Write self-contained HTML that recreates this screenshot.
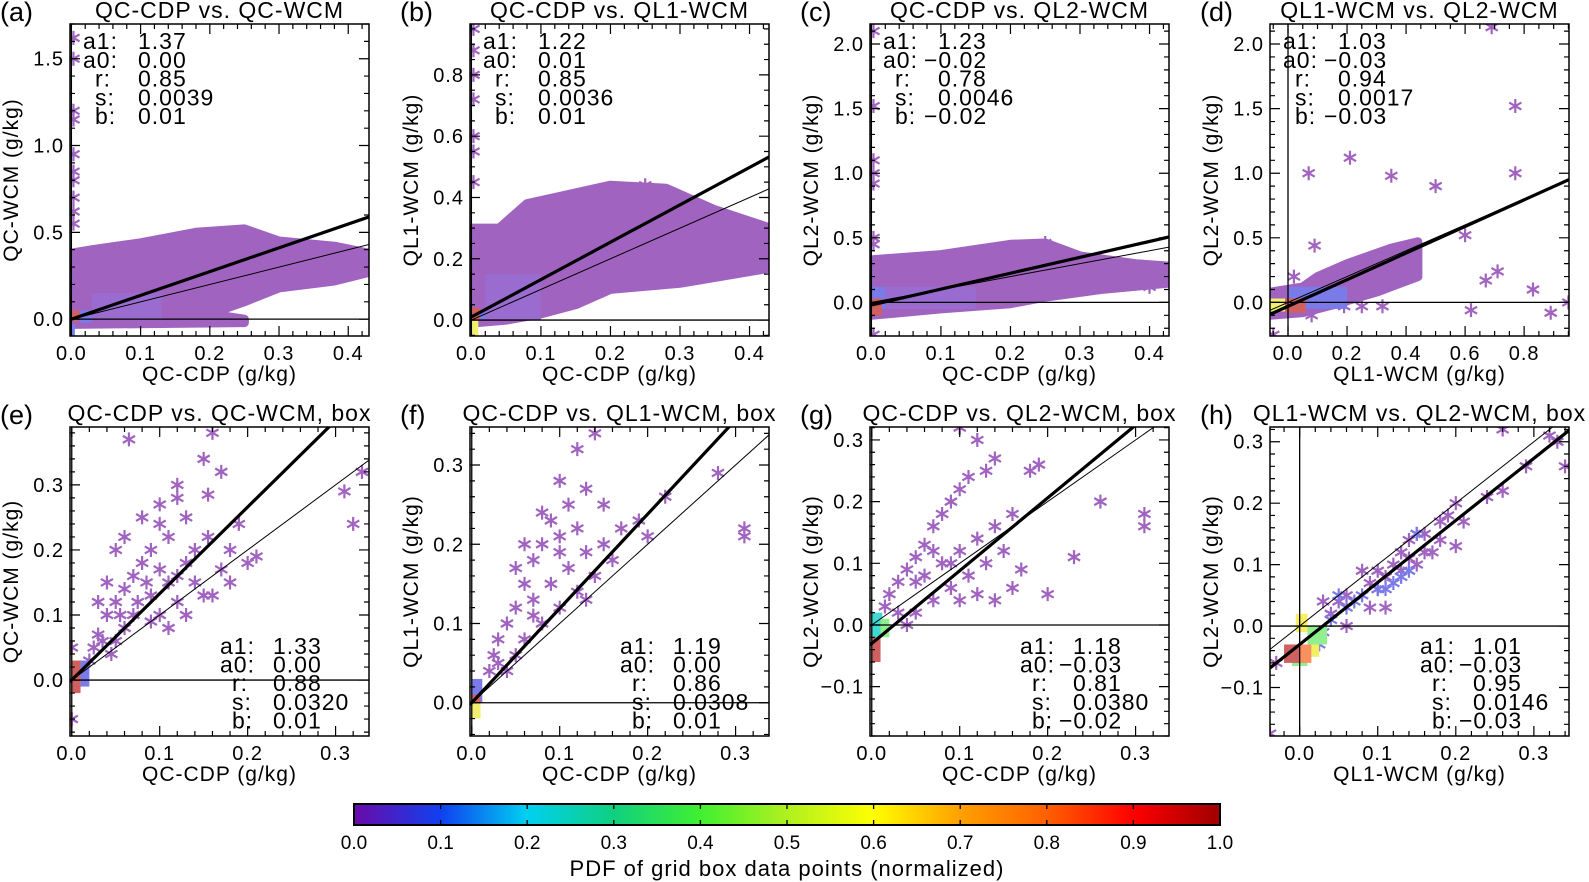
<!DOCTYPE html>
<html><head><meta charset="utf-8"><style>
body{margin:0;background:#fff}
svg{display:block;font-family:"Liberation Sans",sans-serif}
</style></head><body>
<svg id="fig" width="1589" height="882" viewBox="0 0 1589 882"></svg>
<script>
// ---------- data ----------
const panelIds=['a','b','c','d','e','f','g','h'];
const panelTitles=['QC-CDP vs. QC-WCM','QC-CDP vs. QL1-WCM','QC-CDP vs. QL2-WCM','QL1-WCM vs. QL2-WCM','QC-CDP vs. QC-WCM, box','QC-CDP vs. QL1-WCM, box','QC-CDP vs. QL2-WCM, box','QL1-WCM vs. QL2-WCM, box'];
const xLabels=['QC-CDP (g/kg)','QC-CDP (g/kg)','QC-CDP (g/kg)','QL1-WCM (g/kg)','QC-CDP (g/kg)','QC-CDP (g/kg)','QC-CDP (g/kg)','QL1-WCM (g/kg)'];
const yLabels=['QC-WCM (g/kg)','QL1-WCM (g/kg)','QL2-WCM (g/kg)','QL2-WCM (g/kg)','QC-WCM (g/kg)','QL1-WCM (g/kg)','QL2-WCM (g/kg)','QL2-WCM (g/kg)'];
const xRanges=[[-0.002,0.43],[-0.002,0.428],[-0.002,0.428],[-0.061,0.952],[-0.002,0.338],[-0.002,0.338],[-0.002,0.338],[-0.038,0.345]];
const yRanges=[[-0.097,1.70],[-0.052,0.966],[-0.26,2.155],[-0.26,2.155],[-0.086,0.389],[-0.042,0.348],[-0.18,0.321],[-0.179,0.324]];
const xTicks=[[0,0.1,0.2,0.3,0.4],[0,0.1,0.2,0.3,0.4],[0,0.1,0.2,0.3,0.4],[0,0.2,0.4,0.6,0.8],[0,0.1,0.2,0.3],[0,0.1,0.2,0.3],[0,0.1,0.2,0.3],[0,0.1,0.2,0.3]];
const yTicks=[[0,0.5,1.0,1.5],[0,0.2,0.4,0.6,0.8],[0,0.5,1.0,1.5,2.0],[0,0.5,1.0,1.5,2.0],[0,0.1,0.2,0.3],[0,0.1,0.2,0.3],[-0.1,0,0.1,0.2,0.3],[-0.1,0,0.1,0.2,0.3]];
const xMinor=[0.02,0.02,0.02,0.05,0.02,0.02,0.02,0.02];
const yMinor=[0.1,0.05,0.1,0.1,0.02,0.02,0.02,0.02];
const fitA1=[1.37,1.22,1.23,1.03,1.33,1.19,1.18,1.01];
const fitA0=[0.00,0.01,-0.02,-0.03,0.00,0.00,-0.03,-0.03];
const statR=['0.85','0.85','0.78','0.94','0.88','0.86','0.81','0.95'];
const statS=['0.0039','0.0036','0.0046','0.0017','0.0320','0.0308','0.0380','0.0146'];
const statB=['0.01','0.01','-0.02','-0.03','0.01','0.01','-0.02','-0.03'];
const clouds=[
 [[0,-0.03],[0.25,-0.02],[0.25,0.0],[0.2,0.03],[0.25,0.1],[0.3,0.18],[0.38,0.22],[0.43,0.27],[0.43,0.38],[0.38,0.42],[0.3,0.45],[0.25,0.52],[0.18,0.5],[0.1,0.44],[0.03,0.4],[0,0.38]],
 [[0,-0.01],[0.05,0.0],[0.1,0.02],[0.15,0.05],[0.2,0.1],[0.3,0.12],[0.43,0.17],[0.43,0.3],[0.35,0.36],[0.28,0.43],[0.2,0.44],[0.12,0.4],[0.08,0.38],[0.04,0.3],[0,0.3]],
 [[0,-0.1],[0.1,-0.05],[0.2,-0.01],[0.25,0.04],[0.33,0.1],[0.43,0.15],[0.43,0.28],[0.38,0.3],[0.3,0.36],[0.25,0.46],[0.2,0.45],[0.1,0.37],[0,0.33]],
 [[-0.06,-0.1],[0.05,-0.08],[0.15,-0.02],[0.3,0.08],[0.44,0.2],[0.44,0.47],[0.35,0.42],[0.2,0.3],[0.1,0.2],[0.05,0.12],[-0.06,0.08]],
 [],[],[],[]
];
const starsX=[
 [0.003,0.003,0.003,0.003,0.003,0.003,0.003,0.003,0.003,0.003,0.4,0.35],
 [0.003,0.003,0.003,0.003,0.003,0.003,0.003,0.25,0.3],
 [0.003,0.003,0.003,0.003,0.003,0.003,0.003,0.003,0.25,0.4],
 [0.69,0.77,0.21,0.07,0.35,0.5,0.77,0.09,0.6,0.67,0.71,0.83,0.62,0.89,0.95,0.19,0.25,0.32,0.08,0.02,-0.05],
 [0.065,0.16,0.15,0.17,0.155,0.12,0.13,0.1,0.11,0.09,0.08,0.07,0.06,0.05,0.04,0.03,0.025,0.1,0.12,0.14,0.09,0.07,0.06,0.05,0.045,0.1,0.12,0.15,0.18,0.2,0.19,0.18,0.155,0.14,0.13,0.11,0.085,0.075,0.09,0.11,0.13,0.17,0.31,0.32,0.33,0.21,0.16,0.02,0.035,0.055,0.03,0.04,0.05,0.06,0.08,0.1,0.12,0,0],
 [0.12,0.14,0.1,0.11,0.13,0.09,0.1,0.12,0.08,0.07,0.06,0.05,0.04,0.03,0.025,0.02,0.07,0.09,0.11,0.13,0.15,0.16,0.14,0.12,0.1,0.08,0.06,0.05,0.04,0.17,0.19,0.2,0.28,0.31,0.31,0.22,0.06,0.05,0.08,0.15,0.1,0.03,0.07,0.13],
 [0.1,0.12,0.14,0.13,0.11,0.1,0.09,0.08,0.07,0.06,0.05,0.04,0.03,0.02,0.06,0.08,0.1,0.12,0.14,0.16,0.15,0.13,0.11,0.09,0.07,0.05,0.04,0.03,0.17,0.18,0.19,0.26,0.31,0.31,0.23,0.2,0.14,0.16,0.12,0.09,0.07,0.05,0.1,0.015],
 [0.26,0.32,0.33,0.34,0.29,0.26,0.24,0.2,0.19,0.18,0.21,0.2,0.18,0.17,0.16,0.15,0.14,0.13,0.14,0.15,0.12,0.11,0.1,0.08,0.09,0.1,0.09,0.11,0.06,0.05,0.03,0.06,0.04,-0.03,-0.038,0.13,0.16]
];
const starsY=[
 [1.62,1.5,1.2,1.15,0.95,0.85,0.8,0.7,0.62,0.55,0.35,0.3],
 [0.95,0.88,0.8,0.72,0.6,0.55,0.45,0.44,0.36],
 [2.1,1.52,1.1,1.0,0.92,0.5,0.45,-0.25,0.46,0.12],
 [2.13,1.52,1.12,1.0,0.98,0.9,1.0,0.44,0.52,0.17,0.24,0.1,-0.06,-0.08,0.0,-0.03,-0.03,-0.03,-0.1,0.2,-0.25],
 [0.37,0.38,0.34,0.32,0.285,0.28,0.25,0.24,0.22,0.2,0.18,0.16,0.14,0.12,0.1,0.07,0.05,0.17,0.16,0.15,0.13,0.1,0.08,0.06,0.04,0.1,0.12,0.13,0.15,0.18,0.24,0.2,0.22,0.2,0.18,0.15,0.15,0.12,0.09,0.08,0.1,0.17,0.29,0.24,0.32,0.19,0.13,0.03,0.06,0.1,0.12,0.15,0.2,0.22,0.25,0.27,0.3,0.05,-0.06],
 [0.32,0.34,0.28,0.25,0.27,0.23,0.21,0.22,0.2,0.18,0.15,0.12,0.1,0.08,0.06,0.04,0.13,0.15,0.17,0.19,0.2,0.18,0.16,0.14,0.12,0.1,0.08,0.06,0.04,0.22,0.23,0.21,0.29,0.22,0.21,0.26,0.2,0.17,0.24,0.25,0.19,0.05,0.11,0.13],
 [0.32,0.3,0.27,0.25,0.24,0.22,0.2,0.18,0.16,0.13,0.11,0.09,0.07,0.05,0.08,0.1,0.12,0.14,0.16,0.18,0.12,0.1,0.08,0.06,0.04,0.02,0.0,0.02,0.09,0.25,0.26,0.2,0.18,0.16,0.11,0.05,0.04,0.06,0.05,0.1,0.12,0.07,0.04,0.03],
 [0.32,0.31,0.3,0.26,0.26,0.22,0.21,0.2,0.18,0.17,0.17,0.13,0.14,0.12,0.15,0.15,0.14,0.12,0.11,0.1,0.1,0.08,0.09,0.09,0.07,0.06,0.03,0.03,0.05,0.04,0.04,0.0,0.02,-0.06,-0.175,0.09,0.12]
];
const blueStarsX=[[],[],[],[],[],[],[],[0.05,0.06,0.04,0.07,0.08,0.1,0.11,0.12,0.13,0.15,0.14,0.03,0.025]];
const blueStarsY=[[],[],[],[],[],[],[],[0.05,0.03,0.01,0.04,0.05,0.06,0.06,0.07,0.08,0.15,0.09,-0.01,-0.03]];
// density cells: [x0,x1,y0,y1,pdf]
const cells=[
 [[0,0.005,-0.1,-0.03,0.12],[0.03,0.13,0,0.15,0.06],[0.012,0.03,-0.02,0.05,0.1],[0,0.012,-0.01,0.05,0.85]],
 [[0.02,0.1,0,0.15,0.06],[0,0.01,-0.05,0.0,0.55],[0,0.012,0,0.04,0.85],[0.012,0.02,0,0.03,0.1]],
 [[0.02,0.15,-0.05,0.12,0.06],[0,0.02,-0.05,0.12,0.1],[0,0.015,-0.1,0.03,0.85]],
 [[0.0,0.2,-0.05,0.12,0.1],[-0.06,-0.01,-0.07,0.03,0.55],[-0.01,0.06,-0.08,0.03,0.85]],
 [[0,0.01,-0.02,0.03,0.85],[0.01,0.02,-0.01,0.03,0.1]],
 [[0,0.01,-0.02,0.0,0.55],[0,0.012,0,0.03,0.1],[0,0.01,0,0.01,0.85]],
 [[0,0.01,-0.06,-0.02,0.85],[0,0.012,-0.02,0.02,0.25],[0.01,0.02,-0.02,0.01,0.35]],
 [[-0.005,0.01,-0.01,0.02,0.6],[0.01,0.035,-0.03,0.0,0.35],[0.015,0.025,-0.05,-0.03,0.58],[-0.01,0.01,-0.065,-0.055,0.35],[-0.02,0.0,-0.06,-0.03,0.85],[0.0,0.015,-0.06,-0.03,0.75]]
];
const cbTicks=[0,0.1,0.2,0.3,0.4,0.5,0.6,0.7,0.8,0.9,1.0];
const cbStops=[[0,'#6a0aa8'],[0.1,'#1040f0'],[0.2,'#00d0f0'],[0.3,'#10d080'],[0.4,'#40f030'],[0.5,'#b0f020'],[0.6,'#ffff00'],[0.7,'#ffa000'],[0.8,'#ff6000'],[0.9,'#ff0000'],[1.0,'#a00000']];

// ---------- drawing ----------
const NS='http://www.w3.org/2000/svg';
const svg=document.getElementById('fig');
function mk(tag,attrs,parent){const e=document.createElementNS(NS,tag);for(const k in attrs)e.setAttribute(k,attrs[k]);(parent||svg).appendChild(e);return e;}
const lefts=[70,470,870,1270], W=299;
const tops=[24,427], H=[312,309];
const PURPLE='#a064c0';
function pdfColor(v){const m={0.06:'#9a6cd0',0.1:'#7a7ae8',0.12:'#6f80f0',0.25:'#40d8d0',0.3:'#80e890',0.35:'#90f090',0.55:'#f0f070',0.58:'#f0f060',0.6:'#f8f060',0.75:'#f89060',0.85:'#d06060'};return m[v]||'#7a7ae8';}
function fmt(v){return (v<-1e-9?'\u2212':'')+Math.abs(v).toFixed(1);}

panelIds.forEach((id,i)=>{
  const row=i<4?0:1, col=i%4;
  const L=lefts[col], T=tops[row], h=H[row], R=L+W, B=T+h;
  const xr=xRanges[i], yr=yRanges[i];
  const sx=v=>L+(v-xr[0])/(xr[1]-xr[0])*W;
  const sy=v=>B-(v-yr[0])/(yr[1]-yr[0])*h;
  const g=mk('g',{});
  
  
  const cid='clip'+id;
  const cp=mk('clipPath',{id:cid},g);mk('rect',{x:L,y:T,width:W,height:h},cp);
  const plot=mk('g',{'clip-path':'url(#'+cid+')'},g);
  
  
  if(clouds[i].length){
    const pts=clouds[i].map(p=>sx(p[0]).toFixed(1)+','+sy(p[1]).toFixed(1)).join(' ');
    const poly=mk('polygon',{points:pts,fill:PURPLE,stroke:PURPLE,'stroke-width':9,'stroke-linejoin':'round'},plot);
    
    
  }
  function star(x,y,color){
    const cx=sx(x),cy=sy(y),r=7;
    const s=mk('path',{d:`M${cx},${cy-r}V${cy+r}M${cx-r*0.87},${cy-r/2}L${cx+r*0.87},${cy+r/2}M${cx-r*0.87},${cy+r/2}L${cx+r*0.87},${cy-r/2}`,stroke:color,'stroke-width':2.2,fill:'none'},plot);
    
    
  }
  starsX[i].forEach((x,k)=>star(x,starsY[i][k],PURPLE));
  blueStarsX[i].forEach((x,k)=>star(x,blueStarsY[i][k],'#7a7ae8'));
  cells[i].forEach(c=>{
    const r=mk('rect',{x:sx(c[0]),y:sy(c[3]),width:Math.max(2,sx(c[1])-sx(c[0])),height:Math.max(2,sy(c[2])-sy(c[3])),fill:pdfColor(c[4])},plot);
    
    
  });
  const zl=mk('line',{x1:L,x2:R,y1:sy(0),y2:sy(0),stroke:'#000','stroke-width':1.3},plot);
  
  
  const zv=mk('line',{x1:sx(0),x2:sx(0),y1:T,y2:B,stroke:'#000','stroke-width':1.3},plot);
  
  
  const one=mk('line',{x1:sx(xr[0]),y1:sy(xr[0]),x2:sx(xr[1]),y2:sy(xr[1]),stroke:'#000','stroke-width':1},plot);
  
  
  const fit=mk('line',{x1:sx(xr[0]),y1:sy(fitA1[i]*xr[0]+fitA0[i]),x2:sx(xr[1]),y2:sy(fitA1[i]*xr[1]+fitA0[i]),stroke:'#000','stroke-width':3.2},plot);
  
  
  const fr=mk('rect',{x:L,y:T,width:W,height:h,fill:'none',stroke:'#000','stroke-width':1.5},g);
  
  
  let tp='';
  const xm=xMinor[i], ym=yMinor[i];
  for(let v=Math.ceil(xr[0]/xm)*xm;v<=xr[1]+1e-9;v+=xm){const X=sx(v);tp+=`M${X},${B}v-5M${X},${T}v5`;}
  for(let v=Math.ceil(yr[0]/ym)*ym;v<=yr[1]+1e-9;v+=ym){const Y=sy(v);tp+=`M${L},${Y}h5M${R},${Y}h-5`;}
  xTicks[i].forEach(v=>{const X=sx(v);tp+=`M${X},${B}v-10M${X},${T}v10`;});
  yTicks[i].forEach(v=>{const Y=sy(v);tp+=`M${L},${Y}h10M${R},${Y}h-10`;});
  const tk=mk('path',{d:tp,stroke:'#000','stroke-width':1.2,fill:'none'},g);
  
  
  xTicks[i].forEach(v=>{
    const t=mk('text',{x:sx(v),y:B+24,'font-size':20,'letter-spacing':1,'text-anchor':'middle'},g);
    t.textContent=fmt(v);
    
    
  });
  yTicks[i].forEach(v=>{
    const t=mk('text',{x:L-6,y:sy(v)+7,'font-size':20,'letter-spacing':1,'text-anchor':'end'},g);
    t.textContent=fmt(v);
    
    
  });
  const xl=mk('text',{x:L+W/2,y:B+45,'font-size':21,'letter-spacing':1,'text-anchor':'middle'},g);
  xl.textContent=xLabels[i];
  
  
  const ylx=L-52, yly=T+h/2;
  const yl=mk('text',{x:ylx,y:yly,'font-size':21,'letter-spacing':1,'text-anchor':'middle',transform:`rotate(-90 ${ylx} ${yly})`},g);
  yl.textContent=yLabels[i];
  
  
  const ti=mk('text',{x:L+W/2,y:T-6,'font-size':23,'letter-spacing':1,'text-anchor':'middle'},g);
  ti.textContent=panelTitles[i];
  
  
  const pl=mk('text',{x:L-70,y:T-3,'font-size':27},g);
  pl.textContent='('+id+')';
  
  
  const lab=['a1:','a0:','r:','s:','b:'];
  const vals=[fitA1[i].toFixed(2),fitA0[i].toFixed(2),statR[i],statS[i],statB[i]];
  const lx=row===0?L+13:L+150, vx=row===0?L+68:L+203, y0=row===0?T+25:T+227, dy=row===0?18.8:18.6;
  lab.forEach((l,k)=>{
    const t1=mk('text',{x:lx+(k>=2?12:0),y:y0+k*dy,'font-size':23,'letter-spacing':1},g);
    t1.textContent=l;
    
    
    let v=vals[k]; const neg=v.startsWith('-');
    const t2=mk('text',{x:vx-(neg?14:0),y:y0+k*dy,'font-size':23,'letter-spacing':1},g);
    t2.textContent=neg?'\u2212'+v.slice(1):v;
    
    
  });
});

// colorbar
const CL=354, CR=1220, CT=804, CB=825;
const cbx=v=>CL+v*(CR-CL);
const defs=mk('defs',{});
const lg=mk('linearGradient',{id:'rainbow',x1:0,x2:1,y1:0,y2:0},defs);
cbStops.forEach(s=>mk('stop',{offset:s[0],'stop-color':s[1]},lg));
const cbg=mk('g',{});


const cbr=mk('rect',{x:CL,y:CT,width:CR-CL,height:CB-CT,fill:'url(#rainbow)',stroke:'#000','stroke-width':2},cbg);


let cbp='';
cbTicks.forEach(v=>{cbp+=`M${cbx(v)},${CT}v5M${cbx(v)},${CB}v-5`;});
const cbt=mk('path',{d:cbp,stroke:'#000','stroke-width':1.3},cbg);


cbTicks.forEach(v=>{
  const t=mk('text',{x:cbx(v),y:849,'font-size':19,'text-anchor':'middle'},cbg);
  t.textContent=v.toFixed(1);
  
  
});
const cbl=mk('text',{x:(CL+CR)/2,y:876,'font-size':22,'letter-spacing':1,'text-anchor':'middle'},cbg);
cbl.textContent='PDF of grid box data points (normalized)';


</script>
</body></html>
